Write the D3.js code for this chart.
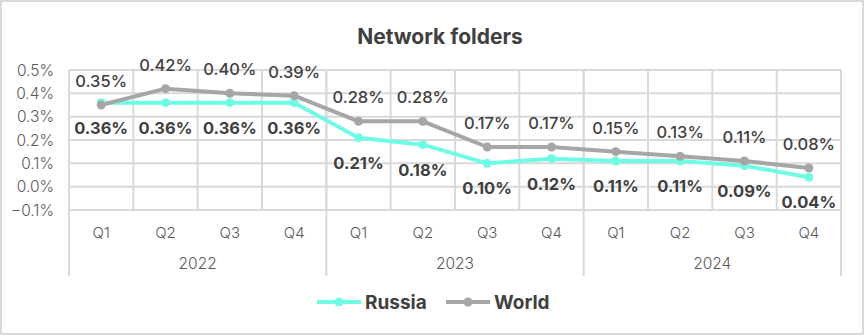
<!DOCTYPE html>
<html><head><meta charset="utf-8">
<script src="https://cdn.jsdelivr.net/npm/d3@7"></script>
<style>body{margin:0;background:#fff;} svg{display:block;font-family:"Inter","Noto Sans",sans-serif;}</style>
</head><body><svg id="c" width="865" height="336"></svg>
<script>
const years = ["2022","2023","2024"];
const quarters = ["Q1","Q2","Q3","Q4"];
const russia = [0.36,0.36,0.36,0.36,0.21,0.18,0.10,0.12,0.11,0.11,0.09,0.04];
const world  = [0.35,0.42,0.40,0.39,0.28,0.28,0.17,0.17,0.15,0.13,0.11,0.08];
const russiaLabels = ["0.36%","0.36%","0.36%","0.36%","0.21%","0.18%","0.10%","0.12%","0.11%","0.11%","0.09%","0.04%"];
const worldLabels  = ["0.35%","0.42%","0.40%","0.39%","0.28%","0.28%","0.17%","0.17%","0.15%","0.13%","0.11%","0.08%"];
const yTicks = [-0.1,0,0.1,0.2,0.3,0.4,0.5];

const cats = [];
years.forEach(y=>quarters.forEach(q=>cats.push(y+" "+q)));

const svg = d3.select("#c");
const L=69,R=841,T=70,B=210;
const x = d3.scaleBand().domain(cats).range([L,R]);
const y = d3.scaleLinear().domain([-0.1,0.5]).range([B,T]);
const grid="#d9d9d9";

svg.append("rect").attr("x",1).attr("y",1).attr("width",862).attr("height",333).attr("fill","#fff").attr("stroke",grid).attr("stroke-width",2);

svg.append("text").attr("x",440).attr("y",44).attr("text-anchor","middle").attr("font-size",21).attr("font-weight",700).attr("fill","#404040").text("Network folders");

svg.append("g").selectAll("line").data(yTicks).join("line")
  .attr("x1",L).attr("x2",R).attr("y1",d=>y(d)).attr("y2",d=>y(d)).attr("stroke",grid).attr("stroke-width",2);
svg.append("g").selectAll("line").data(cats.slice(1)).join("line")
  .attr("x1",d=>x(d)).attr("x2",d=>x(d)).attr("y1",T).attr("y2",B).attr("stroke",grid).attr("stroke-width",2);
const seps=[L, x("2023 Q1"), x("2024 Q1"), R];
svg.append("g").selectAll("line").data(seps).join("line")
  .attr("x1",d=>d).attr("x2",d=>d).attr("y1",T).attr("y2",276).attr("stroke",grid).attr("stroke-width",2);

svg.append("g").selectAll("text").data(yTicks).join("text")
  .attr("x",54).attr("y",d=>y(d)+5.5).attr("text-anchor","end").attr("font-size",15.5).attr("font-weight",300).attr("fill","#595959")
  .text(d=>d3.format(".1f")(d)+"%");

svg.append("g").selectAll("text").data(cats).join("text")
  .attr("x",d=>x(d)+x.bandwidth()/2).attr("y",238).attr("text-anchor","middle").attr("font-size",15).attr("font-weight",300).attr("fill","#595959")
  .text(d=>d.split(" ")[1]);
svg.append("g").selectAll("text").data(years).join("text")
  .attr("x",d=>(x(d+" Q1")+x(d+" Q4")+x.bandwidth())/2).attr("y",269).attr("text-anchor","middle").attr("font-size",15.5).attr("font-weight",300).attr("fill","#595959")
  .text(d=>d);

const line = d3.line().x((d,i)=>x(cats[i])+x.bandwidth()/2).y(d=>y(d));
const series=[{name:"Russia",vals:russia,labels:russiaLabels,color:"#6ffce5",dy:31,bold:700},
              {name:"World",vals:world,labels:worldLabels,color:"#a6a6a6",dy:-18,bold:500}];
series.forEach(s=>{
  svg.append("path").datum(s.vals).attr("d",line).attr("fill","none").attr("stroke",s.color).attr("stroke-width",4).attr("stroke-linejoin","round");
});
series.forEach(s=>{
  svg.append("g").selectAll("circle").data(s.vals).join("circle")
    .attr("cx",(d,i)=>x(cats[i])+x.bandwidth()/2).attr("cy",d=>y(d)).attr("r",4.5).attr("fill",s.color);
});
series.forEach(s=>{
  svg.append("g").selectAll("text").data(s.vals).join("text")
    .attr("x",(d,i)=>x(cats[i])+x.bandwidth()/2).attr("y",d=>y(d)+s.dy).attr("text-anchor","middle")
    .attr("font-size",16.5).attr("font-weight",s.bold).attr("fill","#404040")
    .text((d,i)=>s.labels[i]);
});

const leg=[{name:"Russia",color:"#6ffce5",x0:317},{name:"World",color:"#a6a6a6",x0:446}];
leg.forEach(l=>{
  svg.append("line").attr("x1",l.x0).attr("x2",l.x0+44).attr("y1",302).attr("y2",302).attr("stroke",l.color).attr("stroke-width",4);
  svg.append("circle").attr("cx",l.x0+22).attr("cy",302).attr("r",4.5).attr("fill",l.color);
  svg.append("text").attr("x",l.x0+48).attr("y",309).attr("font-size",19).attr("font-weight",700).attr("fill","#404040").text(l.name);
});
</script></body></html>
